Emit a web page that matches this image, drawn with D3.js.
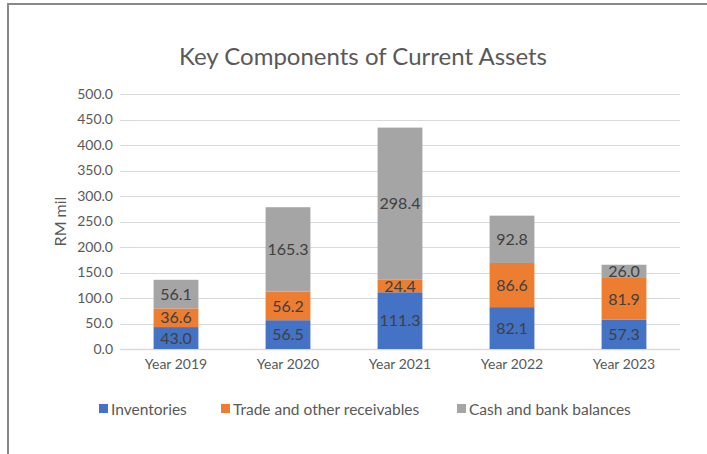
<!DOCTYPE html>
<html>
<head>
<meta charset="utf-8">
<title>Key Components of Current Assets</title>
<script src="https://d3js.org/d3.v7.min.js"></script>
<style>
  body { margin: 0; background: #fff; }
  text { font-family: Lato, "Open Sans", sans-serif; }
</style>
</head>
<body>
<div id="chart"></div>
<script>
// data
var years = ["Year 2019", "Year 2020", "Year 2021", "Year 2022", "Year 2023"];
var inventories = [43.0, 56.5, 111.3, 82.1, 57.3];
var receivables = [36.6, 56.2, 24.4, 86.6, 81.9];
var cash = [56.1, 165.3, 298.4, 92.8, 26.0];
var seriesNames = ["Inventories", "Trade and other receivables", "Cash and bank balances"];
var yTicks = [0, 50, 100, 150, 200, 250, 300, 350, 400, 450, 500];

var colors = ["#4472C4", "#ED7D31", "#A5A5A5"];
var width = 707, height = 454;
var margin = {top: 94, right: 27, bottom: 105, left: 120};

var rows = years.map(function(y, i) {
  return {year: y, inv: inventories[i], rec: receivables[i], cash: cash[i]};
});
var keys = ["inv", "rec", "cash"];
var stacked = d3.stack().keys(keys)(rows);

var svg = d3.select("#chart").append("svg")
    .attr("width", width)
    .attr("height", height);

// outer frame (left and top edges visible)
svg.append("path")
    .attr("d", "M8,454 V4 H707")
    .attr("fill", "none")
    .attr("stroke", "#898989")
    .attr("stroke-width", 2);

var x = d3.scaleBand()
    .domain(years)
    .range([margin.left, width - margin.right])
    .paddingInner(0.6)
    .paddingOuter(0.3);

var y = d3.scaleLinear()
    .domain([0, 500])
    .range([height - margin.bottom, margin.top]);

// gridlines
svg.append("g")
  .selectAll("line")
  .data(yTicks)
  .enter().append("line")
    .attr("x1", margin.left)
    .attr("x2", width - margin.right)
    .attr("y1", function(d) { return Math.round(y(d)) + 0.5; })
    .attr("y2", function(d) { return Math.round(y(d)) + 0.5; })
    .attr("stroke", "#d9d9d9")
    .attr("stroke-width", function(d) { return d === 0 ? 1.5 : 1; });

// y tick labels
var yAxis = svg.append("g")
    .attr("transform", "translate(" + margin.left + ",0)")
    .call(d3.axisLeft(y).tickValues(yTicks).tickSize(0).tickPadding(7)
      .tickFormat(d3.format(".1f")));
yAxis.select(".domain").remove();
yAxis.selectAll("text")
    .style("font-size", "14px")
    .style("font-family", "Lato, sans-serif")
    .attr("fill", "#595959");

// x tick labels
var xAxis = svg.append("g")
    .attr("transform", "translate(0," + (height - margin.bottom) + ")")
    .call(d3.axisBottom(x).tickSize(0).tickPadding(10));
xAxis.select(".domain").remove();
xAxis.selectAll("text")
    .style("font-size", "14px")
    .style("font-family", "Lato, sans-serif")
    .attr("fill", "#595959");

// bars
var layers = svg.append("g")
  .selectAll("g")
  .data(stacked)
  .enter().append("g")
    .attr("fill", function(d, i) { return colors[i]; });

layers.selectAll("rect")
  .data(function(d) { return d; })
  .enter().append("rect")
    .attr("x", function(d) { return x(d.data.year); })
    .attr("y", function(d) { return y(d[1]); })
    .attr("width", x.bandwidth())
    .attr("height", function(d) { return y(d[0]) - y(d[1]); });

// value labels
layers.selectAll("text")
  .data(function(d) { return d; })
  .enter().append("text")
    .attr("x", function(d) { return x(d.data.year) + x.bandwidth() / 2; })
    .attr("y", function(d) { return (y(d[0]) + y(d[1])) / 2; })
    .attr("dy", "0.36em")
    .attr("text-anchor", "middle")
    .attr("fill", "#404040")
    .style("font-size", "16px")
    .text(function(d) { return d3.format(".1f")(d[1] - d[0]); });

// title
svg.append("text")
    .attr("x", 363)
    .attr("y", 65)
    .attr("text-anchor", "middle")
    .attr("fill", "#595959")
    .style("font-size", "24px")
    .text("Key Components of Current Assets");

// y axis title
svg.append("text")
    .attr("transform", "translate(66," + ((margin.top + height - margin.bottom) / 2) + ") rotate(-90)")
    .attr("text-anchor", "middle")
    .attr("fill", "#595959")
    .style("font-size", "16px")
    .text("RM mil");

// legend
var legendX = [99, 221, 457];
var legend = svg.append("g").selectAll("g")
  .data(seriesNames)
  .enter().append("g")
    .attr("transform", function(d, i) { return "translate(" + legendX[i] + ",409)"; });
legend.append("rect")
    .attr("x", 0).attr("y", -5)
    .attr("width", 9).attr("height", 9)
    .attr("fill", function(d, i) { return colors[i]; });
legend.append("text")
    .attr("x", 12)
    .attr("dy", "0.36em")
    .attr("fill", "#595959")
    .style("font-size", "15.5px")
    .text(function(d) { return d; });
</script>
</body>
</html>
